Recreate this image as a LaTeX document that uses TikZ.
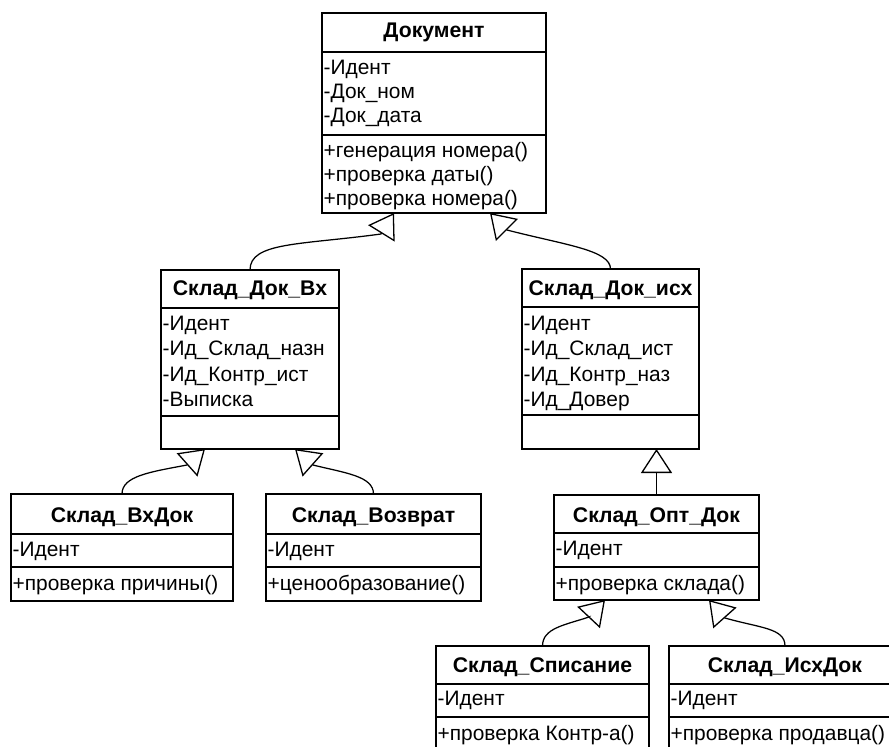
\documentclass[tikz,border=0pt]{standalone}
\usepackage{fontspec}
\setmainfont{Liberation Sans}
\usetikzlibrary{arrows.meta}
\tikzset{
  classbox/.style={draw, line width=1.6pt, inner sep=0pt, outer sep=0pt, anchor=north west},
  ctitle/.style={font=\bfseries\fontsize{21.2}{24}\selectfont, anchor=base, inner sep=0pt},
  crow/.style={font=\fontsize{20.9}{24}\selectfont, anchor=base west, inner sep=0pt},
  cdiv/.style={line width=1.6pt},
  gen/.style={line width=1.25pt, -{Triangle[open, length=24pt, width=31pt, line width=1.3pt]}},
}
\begin{document}
\begin{tikzpicture}[x=1pt, y=-1pt]
\useasboundingbox (0,0) rectangle (889,747);

% Документ
\node[classbox, minimum width=224pt, minimum height=200pt] (dok) at (322,13) {};
\draw[cdiv] (322,52) -- (546,52);
\draw[cdiv] (322,135) -- (546,135);
\node[ctitle] (dokT) at (434,37) {Документ};
\node[crow] (dokA1) at (323.5,74) {-Идент};
\node[crow] (dokA2) at (323.5,98.3) {-Док\_ном};
\node[crow] (dokA3) at (323.5,122.6) {-Док\_дата};
\node[crow] (dokM1) at (323.5,157) {+генерация номера()};
\node[crow] (dokM2) at (323.5,181) {+проверка даты()};
\node[crow] (dokM3) at (323.5,205) {+проверка номера()};

% Склад_Док_Вх
\node[classbox, minimum width=178pt, minimum height=179pt] (vx) at (161,270) {};
\draw[cdiv] (161,308) -- (339,308);
\draw[cdiv] (161,416) -- (339,416);
\node[ctitle] (vxT) at (250,295) {Склад\_Док\_Вх};
\node[crow] (vxA1) at (162.5,330) {-Идент};
\node[crow] (vxA2) at (162.5,355.5) {-Ид\_Склад\_назн};
\node[crow] (vxA3) at (162.5,381) {-Ид\_Контр\_ист};
\node[crow] (vxA4) at (162.5,406.5) {-Выписка};

% Склад_Док_исх
\node[classbox, minimum width=177pt, minimum height=180pt] (ish) at (522,269) {};
\draw[cdiv] (522,307) -- (699,307);
\draw[cdiv] (522,415) -- (699,415);
\node[ctitle] (ishT) at (610.5,295) {Склад\_Док\_исх};
\node[crow] (ishA1) at (523.5,330) {-Идент};
\node[crow] (ishA2) at (523.5,355.5) {-Ид\_Склад\_ист};
\node[crow] (ishA3) at (523.5,381) {-Ид\_Контр\_наз};
\node[crow] (ishA4) at (523.5,406.5) {-Ид\_Довер};

% Склад_ВхДок
\node[classbox, minimum width=222pt, minimum height=107pt] (vxdok) at (11,494) {};
\draw[cdiv] (11,534) -- (233,534);
\draw[cdiv] (11,567) -- (233,567);
\node[ctitle] (vxdokT) at (122,522) {Склад\_ВхДок};
\node[crow] (vxdokA1) at (12.5,556) {-Идент};
\node[crow] (vxdokM1) at (12.5,590) {+проверка причины()};

% Склад_Возврат
\node[classbox, minimum width=215pt, minimum height=107pt] (vozv) at (266,494) {};
\draw[cdiv] (266,534) -- (481,534);
\draw[cdiv] (266,567) -- (481,567);
\node[ctitle] (vozvT) at (373.5,522) {Склад\_Возврат};
\node[crow] (vozvA1) at (267.5,556) {-Идент};
\node[crow] (vozvM1) at (267.5,590) {+ценообразование()};

% Склад_Опт_Док
\node[classbox, minimum width=205pt, minimum height=105pt] (opt) at (554,495) {};
\draw[cdiv] (554,533) -- (759,533);
\draw[cdiv] (554,567) -- (759,567);
\node[ctitle] (optT) at (656.5,522) {Склад\_Опт\_Док};
\node[crow] (optA1) at (555.5,555) {-Идент};
\node[crow] (optM1) at (555.5,590) {+проверка склада()};

% Склад_Списание
\node[classbox, minimum width=213pt, minimum height=110pt] (spis) at (436,646) {};
\draw[cdiv] (436,684) -- (649,684);
\draw[cdiv] (436,717) -- (649,717);
\node[ctitle] (spisT) at (542.5,672) {Склад\_Списание};
\node[crow] (spisA1) at (437.5,705) {-Идент};
\node[crow] (spisM1) at (437.5,740) {+проверка Контр-а()};

% Склад_ИсхДок
\node[classbox, minimum width=232pt, minimum height=110pt] (isx) at (669,646) {};
\draw[cdiv] (669,684) -- (901,684);
\draw[cdiv] (669,717) -- (901,717);
\node[ctitle] (isxT) at (785,672) {Склад\_ИсхДок};
\node[crow] (isxA1) at (670.5,705) {-Идент};
\node[crow] (isxM1) at (670.5,740) {+проверка продавца()};

% arrow tips
\coordinate (tA) at (394,213);
\coordinate (tB) at (490,213);
\coordinate (tC) at (205,449);
\coordinate (tD) at (295,449);
\coordinate (tF) at (605,600);
\coordinate (tG) at (709,600);

% generalisations
\draw[gen] (vx.north) .. controls (250,242) and (300,245) .. (381,234) -- (tA);
\draw[gen] (ish.north) .. controls (610.5,250) and (565,245) .. (507,230) -- (tB);
\draw[gen] (vxdok.north) .. controls (122,476) and (150,472) .. (187,465) -- (tC);
\draw[gen] (vozv.north) .. controls (373.5,476) and (345,473) .. (313,465) -- (tD);
\draw[gen] (opt.north) -- (opt.north |- ish.south);
\draw[gen] (spis.north) .. controls (542.5,628) and (565,625) .. (589,617) -- (tF);
\draw[gen] (isx.north) .. controls (785,628) and (760,628) .. (725,618) -- (tG);
\end{tikzpicture}
\end{document}
